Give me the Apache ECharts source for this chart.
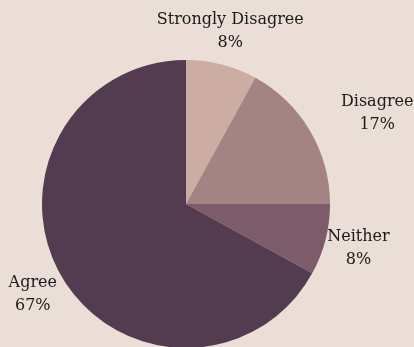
<!DOCTYPE html>
<html>
<head>
<meta charset="utf-8">
<script src="https://cdn.jsdelivr.net/npm/echarts@6/dist/echarts.min.js"></script>
<style>
  html, body { margin: 0; padding: 0; background: #eaded6; }
  #main { width: 414px; height: 347px; }
</style>
</head>
<body>
<div id="main"></div>
<script>
const categories = ['Strongly Disagree', 'Disagree', 'Neither', 'Agree']
const shares = [8, 17, 8, 67]
const colors = ['#cdaca3', '#a48385', '#7c5c6b', '#533c4f']

const myChart = echarts.init(document.getElementById('main'))
const option = {
  backgroundColor: '#eaded6',
  animation: false,
  series: [
    {
      type: 'pie',
      center: [186, 204],
      radius: 144,
      startAngle: 90,
      clockwise: true,
      avoidLabelOverlap: false,
      label: {
        show: true,
        position: 'outside',
        formatter: '{b}\n{c}%',
        fontFamily: 'DejaVu Serif',
        fontSize: 16,
        lineHeight: 23,
        color: '#1a1a1a',
        distanceToLabelLine: 0
      },
      labelLine: { show: false, length: 34, length2: 0 },
      // center the labels on the radial anchor, push the Disagree one further out
      labelLayout: function (params) {
        const out = { align: 'center', verticalAlign: 'middle' }
        if (params.dataIndex === 1) { out.dx = 38; out.dy = 0 }
        return out
      },
      data: categories.map((c, i) => ({
        name: c,
        value: shares[i],
        itemStyle: { color: colors[i] }
      }))
    }
  ]
}
myChart.setOption(option)
</script>
</body>
</html>
